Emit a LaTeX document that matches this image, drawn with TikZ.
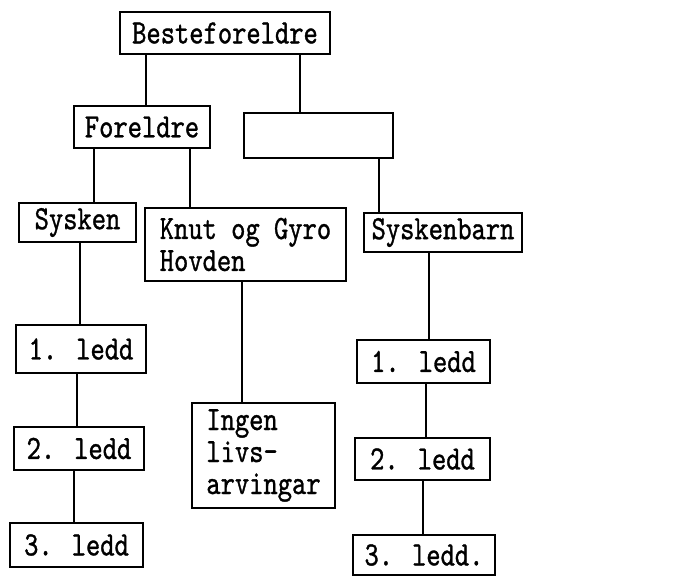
\documentclass[tikz,border=0pt]{standalone}
\usepackage{fontspec}
\newfontfamily\skrivemaskin[FakeStretch=0.8,FakeBold=1]{lmmono10-regular.otf}
\begin{document}
\begin{tikzpicture}[x=1pt,y=-1pt,line width=1.6pt,
	boks/.style={draw,inner sep=0pt,align=left,
		font=\skrivemaskin\fontsize{34}{32}\selectfont}]
\useasboundingbox (0,0) rectangle (692,576);
\node[boks,minimum width=210pt,minimum height=42pt] (beste) at (225,33) {Besteforeldre};
\node[boks,minimum width=136pt,minimum height=42pt] (foreldre) at (142,127) {Foreldre};
\node[boks,minimum width=149pt,minimum height=45pt] (tom) at (318.5,135.5) {};
\node[boks,minimum width=117pt,minimum height=39pt] (sysken) at (77.5,222.5) {Sysken};
\node[boks,minimum width=201pt,minimum height=73pt] (knut) at (245.5,244.5) {Knut og Gyro\\Hovden};
\node[boks,minimum width=158pt,minimum height=39pt] (syskenbarn) at (443,232.5) {Syskenbarn};
\node[boks,minimum width=130pt,minimum height=48pt] (sl1) at (81,349) {1. ledd};
\node[boks,minimum width=130pt,minimum height=43pt] (sl2) at (79,448.5) {2. ledd};
\node[boks,minimum width=133pt,minimum height=44pt] (sl3) at (76.5,545) {3. ledd};
\node[boks,minimum width=143pt,minimum height=105pt] (ingen) at (263.5,455.5) {Ingen\\livs-\\arvingar};
\node[boks,minimum width=133pt,minimum height=43pt] (bl1) at (423.5,361.5) {1. ledd};
\node[boks,minimum width=135pt,minimum height=42pt] (bl2) at (422.5,459) {2. ledd};
\node[boks,minimum width=142pt,minimum height=40pt] (bl3) at (424,555) {3. ledd.};
\draw (beste.south -| 146,0) -- (foreldre.north -| 146,0);
\draw (beste.south -| 300,0) -- (tom.north -| 300,0);
\draw (foreldre.south -| 94,0) -- (sysken.north -| 94,0);
\draw (foreldre.south -| 190,0) -- (knut.north -| 190,0);
\draw (tom.south -| 379,0) -- (syskenbarn.north -| 379,0);
\draw (sysken.south -| 80,0) -- (sl1.north -| 80,0);
\draw (sl1.south -| 77,0) -- (sl2.north -| 77,0);
\draw (sl2.south -| 74,0) -- (sl3.north -| 74,0);
\draw (knut.south -| 242,0) -- (ingen.north -| 242,0);
\draw (syskenbarn.south -| 429,0) -- (bl1.north -| 429,0);
\draw (bl1.south -| 426,0) -- (bl2.north -| 426,0);
\draw (bl2.south -| 423,0) -- (bl3.north -| 423,0);
\end{tikzpicture}
\end{document}
